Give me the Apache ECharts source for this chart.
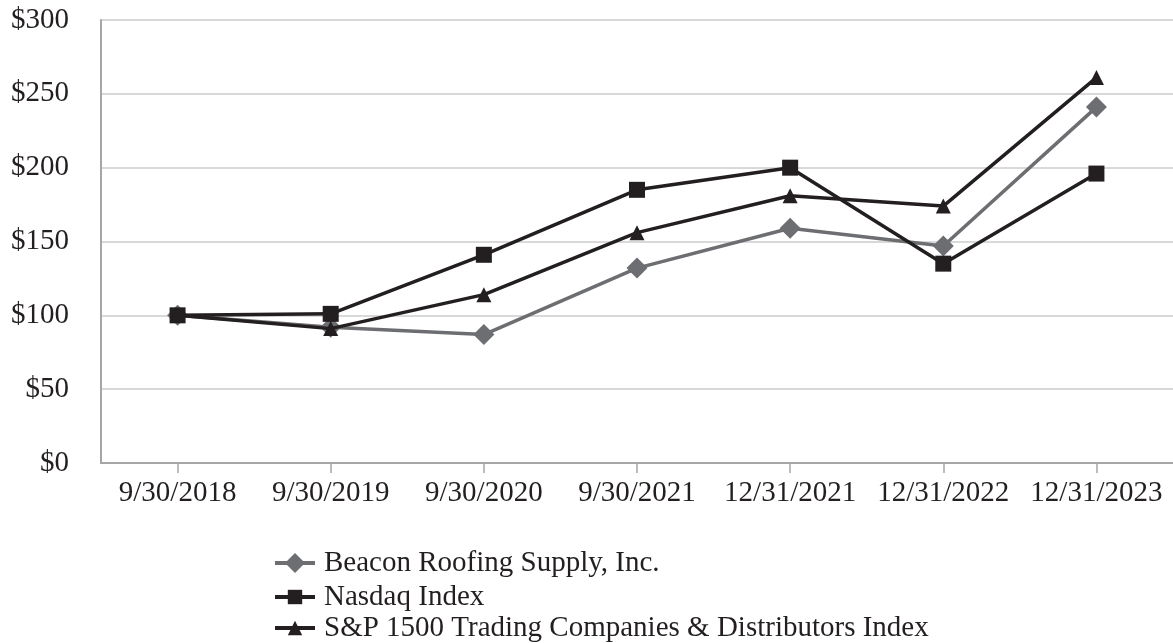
<!DOCTYPE html>
<html><head><meta charset="utf-8">
<script src="https://cdn.jsdelivr.net/npm/echarts@6/dist/echarts.min.js"></script>
<style>html,body{margin:0;padding:0;background:#fff}#c{width:1173px;height:643px}</style>
</head><body><div id="c"></div>
<script>
const categories = ['9/30/2018','9/30/2019','9/30/2020','9/30/2021','12/31/2021','12/31/2022','12/31/2023'];
const beacon = [100, 92, 87, 132, 159, 147, 241];
const nasdaq = [100, 101, 141, 185, 200, 135, 196];
const sp1500 = [100, 91, 114, 156, 181, 174, 261];
const seriesNames = ['Beacon Roofing Supply, Inc.','Nasdaq Index','S&P 1500 Trading Companies & Distributors Index'];
const yTicks = [0, 50, 100, 150, 200, 250, 300];

const font = 'Liberation Serif';
const legendTops = [545, 579, 610];
const legendItemHeights = [25, 18, 18];
function mkLegend(i) {
  return {
    orient: 'vertical', left: 273, top: legendTops[i], padding: 0, itemWidth: 40, itemHeight: legendItemHeights[i],
    lineStyle: {width: 4},
    textStyle: {color: '#231f20', fontSize: 29, lineHeight: 29, fontFamily: font, padding: [0,0,7,4]},
    data: [seriesNames[i]]
  };
}
const chart = echarts.init(document.getElementById('c'));
chart.setOption({
  animation: false,
  textStyle: {fontFamily: font},
  grid: {left: 101, right: -7, top: 20, bottom: 180, containLabel: false},
  xAxis: {
    type: 'category', data: categories, boundaryGap: true,
    axisLine: {lineStyle: {color: '#a6a6a6', width: 2}},
    axisTick: {show: true, alignWithLabel: true, length: 10, lineStyle: {color: '#a6a6a6', width: 1.5}},
    axisLabel: {color: '#231f20', fontSize: 29, fontFamily: font, margin: 16, interval: 0}
  },
  yAxis: {
    type: 'value', min: yTicks[0], max: yTicks[yTicks.length-1], interval: 50,
    axisLine: {show: true, lineStyle: {color: '#a6a6a6', width: 2}},
    axisTick: {show: false},
    splitLine: {lineStyle: {color: '#d9d9d9', width: 2}},
    axisLabel: {color: '#231f20', fontSize: 29, fontFamily: font, margin: 32, formatter: v => '$' + v}
  },
  legend: [mkLegend(0), mkLegend(1), mkLegend(2)],
  series: [
    {name: seriesNames[0], type: 'line', data: beacon, symbol: 'diamond', symbolSize: 21,
     lineStyle: {color: '#6d6e71', width: 3.5}, itemStyle: {color: '#6d6e71'}, z: 2},
    {name: seriesNames[1], type: 'line', data: nasdaq, symbol: 'rect', symbolSize: 16,
     lineStyle: {color: '#231f20', width: 3.5}, itemStyle: {color: '#231f20'}, z: 3},
    {name: seriesNames[2], type: 'line', data: sp1500, symbol: 'triangle', symbolSize: 15,
     lineStyle: {color: '#231f20', width: 3.5}, itemStyle: {color: '#231f20'}, z: 4}
  ]
});
</script></body></html>
